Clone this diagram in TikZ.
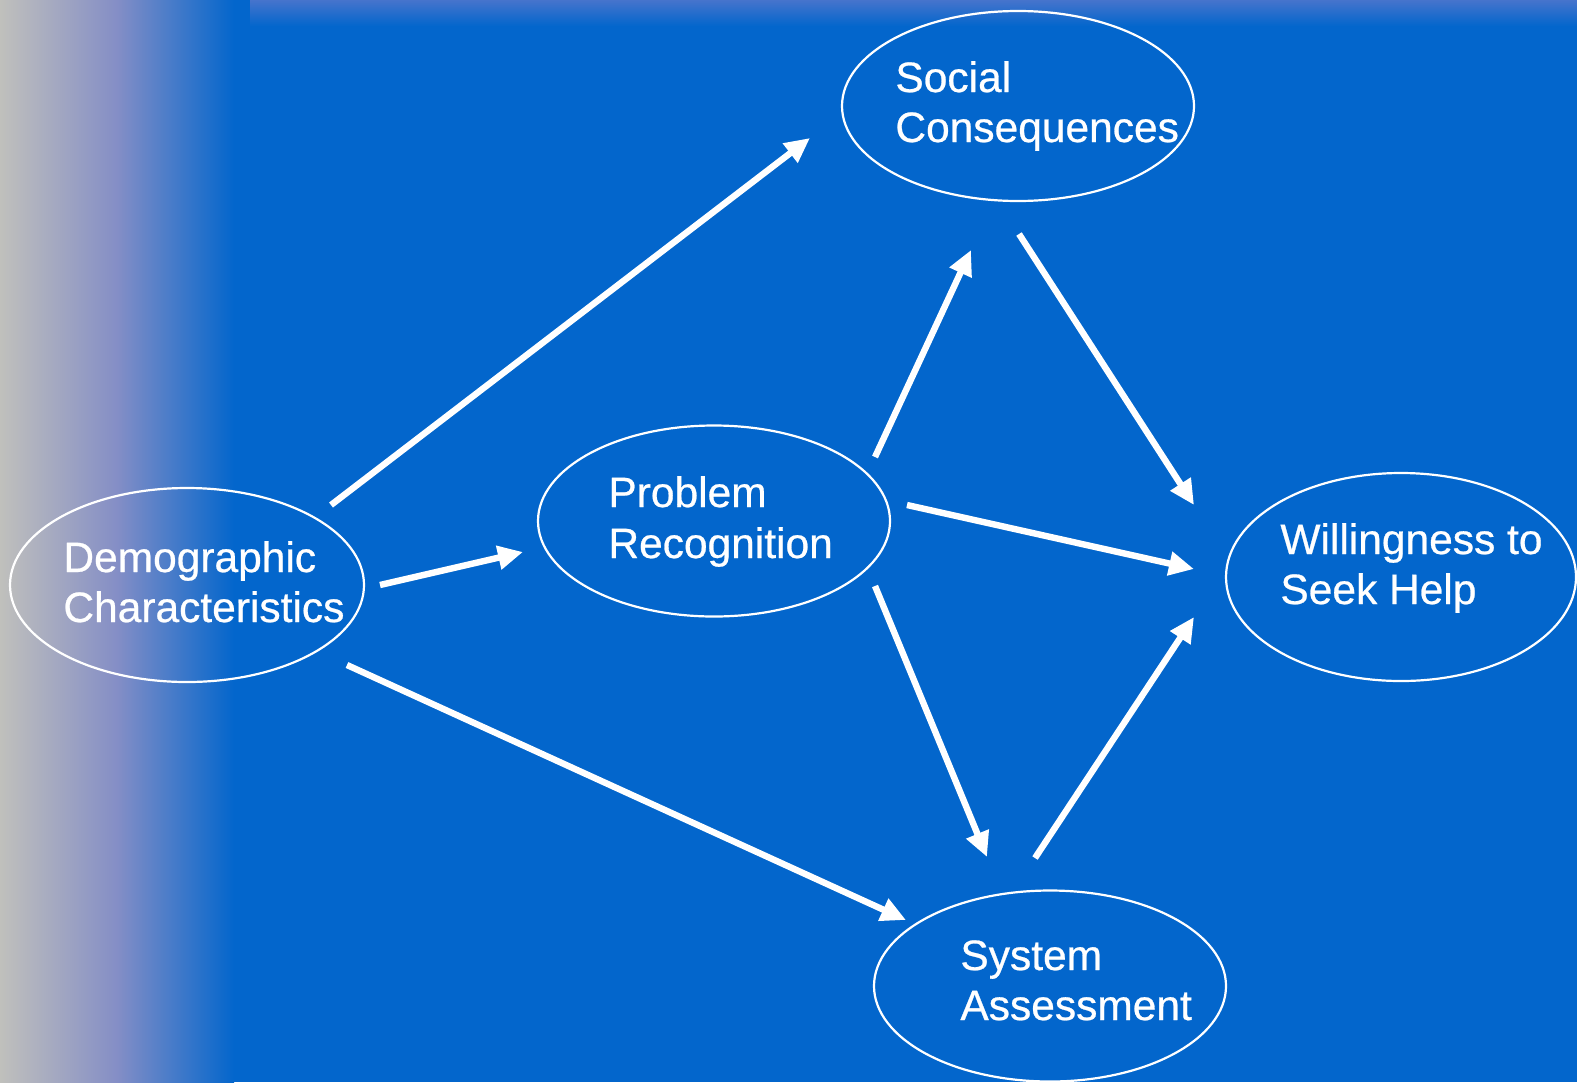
\documentclass[tikz,border=0pt]{standalone}
\usepackage{fontspec}
\setmainfont{Liberation Sans}
\newfontfamily\labfont{Liberation Sans}[FakeBold=0.6]
\usetikzlibrary{arrows.meta,shapes.geometric}
\definecolor{bgblue}{RGB}{3,102,204}
\definecolor{bggray}{RGB}{192,192,188}
\definecolor{bgmid}{RGB}{132,142,198}
\definecolor{topblue}{RGB}{70,116,204}
\begin{document}
\begin{tikzpicture}[x=0.5pt,y=-0.5pt,
  oval/.style={draw=white,line width=1.1pt,ellipse,inner sep=0pt},
  txt/.style={text=white,font=\labfont\fontsize{21.25}{25}\selectfont,anchor=base west,inner sep=0pt},
  arr/.style={draw=white,line width=3.2pt,-{Triangle[length=12.5pt,width=11.5pt]}}]
% background
\useasboundingbox (0,0) rectangle (1577,1082);
\fill[bgblue] (0,0) rectangle (1577,1082);
\shade[left color=bggray,right color=bgblue,middle color=bgmid] (0,0) rectangle (234,1082);
\shade[top color=topblue,bottom color=bgblue] (250,0) rectangle (1577,26);
% ellipses
\node[oval,minimum width=177pt,minimum height=97pt] (demo) at (187,585) {};
\node[oval,minimum width=176pt,minimum height=95.5pt] (prob) at (714,521) {};
\node[oval,minimum width=176pt,minimum height=95pt] (soc) at (1018,106) {};
\node[oval,minimum width=175pt,minimum height=104pt] (will) at (1401,577) {};
\node[oval,minimum width=176pt,minimum height=95.5pt] (sys) at (1050,986) {};
% texts
\node[txt] (demo1) at (63,572) {Demographic};
\node[txt] (demo2) at (63,622) {Characteristics};
\node[txt] (prob1) at (608,507) {Problem};
\node[txt] (prob2) at (608,558) {Recognition};
\node[txt] (soc1) at (895,92) {Social};
\node[txt] (soc2) at (895,142) {Consequences};
\node[txt] (will1) at (1280,554) {Willingness to};
\node[txt] (will2) at (1280,604) {Seek Help};
\node[txt] (sys1) at (960,970) {System};
\node[txt] (sys2) at (960,1020) {Assessment};
% arrow end points
\coordinate (a1s) at (331,505); \coordinate (a1e) at (810,138);
\coordinate (a2s) at (380,585); \coordinate (a2e) at (523,552);
\coordinate (a3s) at (347,665); \coordinate (a3e) at (906,920);
\coordinate (a4s) at (875,457); \coordinate (a4e) at (971,250);
\coordinate (a5s) at (907,505); \coordinate (a5e) at (1194,569);
\coordinate (a6s) at (875,586); \coordinate (a6e) at (987,857);
\coordinate (a7s) at (1019,234); \coordinate (a7e) at (1194,505);
\coordinate (a8s) at (1035,858); \coordinate (a8e) at (1194,617);
% arrows
\draw[arr] (a1s) -- (a1e);
\draw[arr] (a2s) -- (a2e);
\draw[arr] (a3s) -- (a3e);
\draw[arr] (a4s) -- (a4e);
\draw[arr] (a5s) -- (a5e);
\draw[arr] (a6s) -- (a6e);
\draw[arr] (a7s) -- (a7e);
\draw[arr] (a8s) -- (a8e);
\end{tikzpicture}
\end{document}
